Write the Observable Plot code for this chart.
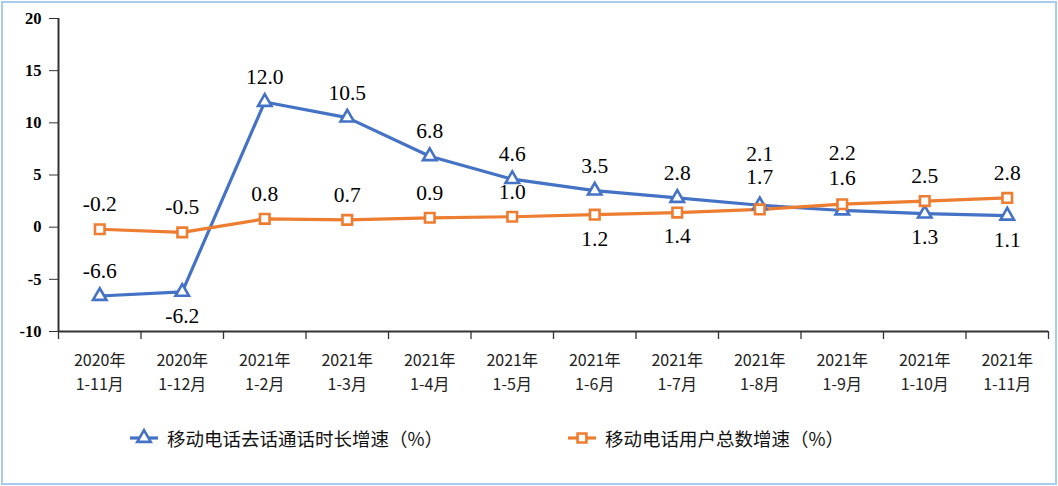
<!DOCTYPE html>
<html>
<head>
<meta charset="utf-8">
<script src="https://cdn.jsdelivr.net/npm/d3@7"></script>
<script src="https://cdn.jsdelivr.net/npm/@observablehq/plot@0.6"></script>
<style>
  html, body { margin: 0; padding: 0; background: #fff; }
  #wrap { position: relative; width: 1058px; height: 486px; overflow: hidden; background: #fff; }
  #frame { position: absolute; left: 1px; top: 1px; width: 1052px; height: 480px; border: 2px solid #a9cbee; pointer-events: none; }
  #chart { position: absolute; left: 0; top: 0; }
  #legend { position: absolute; left: 0; top: 424px; width: 1058px; height: 28px; font-family: "Noto Sans CJK SC", sans-serif; font-size: 18.5px; color: #111; }
  .item { position: absolute; top: 0; display: flex; align-items: center; height: 28px; }
  .item svg { margin-right: 9px; }
</style>
</head>
<body>
<div id="wrap">
  <div id="chart"></div>
  <div id="legend"></div>
  <div id="frame"></div>
</div>
<script>
// ---- data ----
const categories = ["2020年\n1-11月", "2020年\n1-12月", "2021年\n1-2月", "2021年\n1-3月", "2021年\n1-4月", "2021年\n1-5月",
                    "2021年\n1-6月", "2021年\n1-7月", "2021年\n1-8月", "2021年\n1-9月", "2021年\n1-10月", "2021年\n1-11月"];
const seriesNames = ["移动电话去话通话时长增速（%）", "移动电话用户总数增速（%）"];
const callGrowth = [-6.6, -6.2, 12.0, 10.5, 6.8, 4.6, 3.5, 2.8, 2.1, 1.6, 1.3, 1.1];
const userGrowth = [-0.2, -0.5, 0.8, 0.7, 0.9, 1.0, 1.2, 1.4, 1.7, 2.2, 2.5, 2.8];
const callLabelPlace = ["above", "below", "above", "above", "above", "above", "above", "above", "high", "mid", "below", "below"];
const userLabelPlace = ["above", "above", "above", "above", "above", "above", "below", "below", "mid", "high", "above", "above"];
const yTicks = [-10, -5, 0, 5, 10, 15, 20];

// ---- styling ----
const colors = ["#4472C4", "#ED7D31"];
const placeDy = {above: -25, below: 24, mid: -32, high: -51};

const rows = [];
callGrowth.forEach((v, i) => rows.push({i, value: v, series: seriesNames[0], place: callLabelPlace[i]}));
userGrowth.forEach((v, i) => rows.push({i, value: v, series: seriesNames[1], place: userLabelPlace[i]}));
const callRows = rows.filter(d => d.series === seriesNames[0]);
const userRows = rows.filter(d => d.series === seriesNames[1]);
const idx = categories.map((_, i) => i);
const bounds = d3.range(categories.length + 1).map(i => i - 0.5);

const serif = "'Liberation Serif', 'Times New Roman', serif";

function labels(data) {
  return Object.keys(placeDy).map(p => Plot.text(data.filter(d => d.place === p), {
    x: "i", y: "value", text: d => d.value.toFixed(1), dy: placeDy[p],
    fontFamily: serif, fontSize: 21.5, fill: "#000"
  }));
}

const plot = Plot.plot({
  width: 1058,
  height: 405,
  marginLeft: 58,
  marginRight: 10,
  marginTop: 18,
  marginBottom: 74,
  style: {background: "transparent", color: "#000"},
  x: {type: "linear", domain: [-0.5, categories.length - 0.5], axis: null, label: null},
  y: {domain: [-10, 20], axis: null, label: null},
  color: {domain: seriesNames, range: colors},
  marks: [
    // y axis ticks
    Plot.axisY({ticks: yTicks, tickSize: 9, tickFormat: () => "", label: null, stroke: "#333", strokeWidth: 1}),
    // y axis tick labels (bold serif)
    Plot.text(yTicks, {x: () => -0.5, y: d => d, text: d => String(d), dx: -17, textAnchor: "end",
      fontFamily: serif, fontWeight: "bold", fontSize: 16.5, fill: "#000"}),
    // category boundary ticks
    Plot.axisX({ticks: bounds, tickSize: 8, tickFormat: () => "", label: null, stroke: "#333", strokeWidth: 1.3}),
    // category labels
    Plot.text(idx, {x: d => d, y: () => -10, text: d => categories[d], dy: 39, lineHeight: 1.45,
      fontFamily: "'Noto Sans CJK SC', sans-serif", fontSize: 16, fill: "#222"}),
    // series lines
    Plot.line(callRows, {x: "i", y: "value", stroke: "series", strokeWidth: 3.2}),
    Plot.line(userRows, {x: "i", y: "value", stroke: "series", strokeWidth: 3.2}),
    Plot.dot(callRows, {x: "i", y: "value", stroke: "series", symbol: () => "triangle", r: 5, fill: "#fff", strokeWidth: 2.6}),
    Plot.dot(userRows, {x: "i", y: "value", stroke: "series", symbol: () => "square", r: 5.4, fill: "#fff", strokeWidth: 2.6}),
    ...labels(callRows),
    ...labels(userRows),
    // axis lines
    Plot.ruleX([-0.5], {y1: -10, y2: 20, stroke: "#333", strokeWidth: 2}),
    Plot.ruleY([-10], {x1: -0.5, x2: categories.length - 0.5, stroke: "#333", strokeWidth: 2})
  ]
});
document.getElementById("chart").appendChild(plot);

// ---- legend ----
const legend = document.getElementById("legend");
const lefts = [130, 568];
seriesNames.forEach((name, k) => {
  const item = document.createElement("div");
  item.className = "item";
  item.style.left = lefts[k] + "px";
  const svg = d3.create("svg").attr("width", 28).attr("height", 28);
  svg.append("line").attr("x1", 0).attr("x2", 28).attr("y1", 14).attr("y2", 14)
    .attr("stroke", colors[k]).attr("stroke-width", 3.2);
  svg.append("path").attr("transform", "translate(14,14)")
    .attr("d", d3.symbol(k === 0 ? d3.symbolTriangle : d3.symbolSquare, Math.PI * 25)())
    .attr("fill", "#fff").attr("stroke", colors[k]).attr("stroke-width", 2.6);
  item.appendChild(svg.node());
  const span = document.createElement("span");
  span.textContent = name;
  item.appendChild(span);
  legend.appendChild(item);
});
</script>
</body>
</html>
